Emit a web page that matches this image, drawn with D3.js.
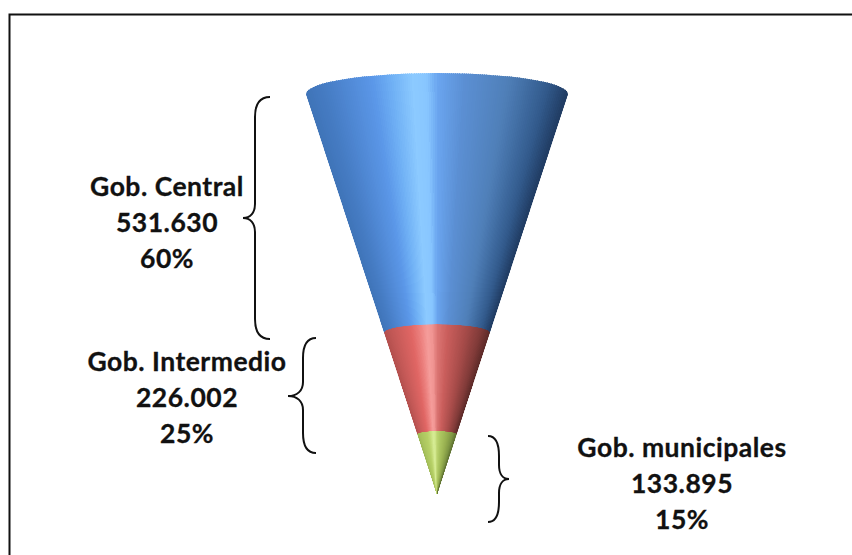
<!DOCTYPE html>
<html>
<head>
<meta charset="utf-8">
<script src="https://cdn.jsdelivr.net/npm/d3@7"></script>
<style>
  html, body { margin: 0; padding: 0; background: #fff; }
  svg { display: block; }
  text { font-family: Lato, "Open Sans", sans-serif; font-weight: 700; fill: #111; stroke: #111; stroke-width: 0.3px; letter-spacing: 0.5px; }
</style>
</head>
<body>
<script>
// data
const names = ['Gob. municipales', 'Gob. Intermedio', 'Gob. Central']
const values = [133895, 226002, 531630]
const valueLabels = ['133.895', '226.002', '531.630']
const shares = ['15%', '25%', '60%']

// shading stops across each cone, left to right
const shadeStops = [0, 0.08, 0.26, 0.33, 0.41, 0.46, 0.5, 0.6, 0.76, 0.91, 1]
const shades = [
  ['#9ab552', '#a8c25c', '#b6d066', '#c2da76', '#d6ec94', '#d2e88e', '#bed672', '#acc660', '#98b050', '#7c9442', '#607232'],
  ['#b24e4c', '#c25856', '#e06664', '#ea7c7a', '#f59c9a', '#f09492', '#dc7674', '#ca5e5c', '#a84c4a', '#803a38', '#5c2a28'],
  ['#3f74b8', '#467cc4', '#5b97e8', '#6fb0f5', '#8ccaff', '#88c6ff', '#6aa5ef', '#5b8fd3', '#4f7fb8', '#325a8c', '#1f3a60']
]

const width = 852
const height = 555

// cone geometry
const apexX = 437
const apexY = 494
const rimY = 94
const rimRx = 131
const squash = 0.16

const svg = d3.select('body')
  .append('svg')
  .attr('width', width)
  .attr('height', height)

svg.append('rect')
  .attr('width', width)
  .attr('height', height)
  .attr('fill', '#fff')

// frame: only the top and left edges fall inside the picture
svg.append('path')
  .attr('d', `M9.5,${height} L9.5,14.5 L${width},14.5`)
  .attr('fill', 'none')
  .attr('stroke', '#111')
  .attr('stroke-width', 2)

// scales
const total = d3.sum(values)
const yScale = d3.scaleLinear()
  .domain([0, total])
  .range([apexY, rimY])
const halfWidth = d3.scaleLinear()
  .domain([apexY, rimY])
  .range([0, rimRx])

const cumulative = d3.cumsum(values)
const bandTop = i => yScale(cumulative[i])
const bandBottom = i => yScale(i === 0 ? 0 : cumulative[i - 1])

// curved edge of the cone at height y, drawn left to right or back
const bandPath = i => {
  const y0 = bandTop(i)
  const y1 = bandBottom(i)
  const r0 = halfWidth(y0)
  const r1 = halfWidth(y1)
  let p = `M${apexX - r0},${y0} A${r0},${r0 * squash} 0 0 1 ${apexX + r0},${y0} `
  if (r1 === 0) return p + `L${apexX},${y1} Z`
  p += `L${apexX + r1},${y1} A${r1},${r1 * squash} 0 0 0 ${apexX - r1},${y1} Z`
  return p
}

const defs = svg.append('defs')
const cone = svg.append('g').attr('class', 'cone')
const sliceCount = 132
const slices = d3.range(0, 1, 1 / sliceCount)

values.forEach((v, i) => {
  defs.append('clipPath')
    .attr('id', `band-${i}`)
    .append('path')
    .attr('d', bandPath(i))

  const color = d3.scaleLinear()
    .domain(shadeStops)
    .range(shades[i])

  // thin wedges running to the tip, so the highlight narrows with the cone
  const rimTop = rimY - rimRx * squash - 2
  const overTop = (apexY - rimTop) / (apexY - rimY)
  cone.append('g')
    .attr('clip-path', `url(#band-${i})`)
    .selectAll('path')
    .data(slices)
    .enter()
    .append('path')
    .attr('d', t => {
      const a = apexX + (t * 2 - 1) * rimRx * overTop
      const b = apexX + ((t + 1 / sliceCount) * 2 - 1) * rimRx * overTop
      return `M${apexX},${apexY} L${a},${rimTop} L${b},${rimTop} Z`
    })
    .attr('fill', t => color(t))
    .attr('stroke', t => color(t))
    .attr('stroke-width', 1)
    .attr('shape-rendering', 'crispEdges')
})

// curly braces: sharp point on the side of the label
const brace = (x0, x1, xTip, y0, y1, yTip) => {
  const d = x1 < x0 ? -1 : 1
  const k = Math.abs(x1 - x0)
  return `M${x0},${y0} C${x0 + d * k * 0.6},${y0} ${x1},${y0 + 6} ${x1},${y0 + 20} `
    + `L${x1},${yTip - 14} C${x1},${yTip - 5} ${x1 + (xTip - x1) * 0.4},${yTip} ${xTip},${yTip} `
    + `C${x1 + (xTip - x1) * 0.4},${yTip} ${x1},${yTip + 5} ${x1},${yTip + 14} `
    + `L${x1},${y1 - 20} C${x1},${y1 - 6} ${x0 + d * k * 0.6},${y1} ${x0},${y1}`
}

const braces = [
  brace(488, 499, 509, 436, 522, 479),
  brace(316, 303, 288, 338, 453, 396),
  brace(270, 255, 243, 97, 339, 218)
]

svg.append('g')
  .selectAll('path')
  .data(braces)
  .enter()
  .append('path')
  .attr('d', d => d)
  .attr('fill', 'none')
  .attr('stroke', '#111')
  .attr('stroke-width', 2)

// labels
const labelX = [682, 187, 167]
const labelY = [457, 371, 196]
const lineStep = 36

names.forEach((name, i) => {
  const g = svg.append('g')
    .attr('text-anchor', 'middle')
    .attr('font-size', 26.5)
  ;[name, valueLabels[i], shares[i]].forEach((line, j) => {
    g.append('text')
      .attr('x', labelX[i])
      .attr('y', labelY[i] + j * lineStep)
      .text(line)
  })
})
</script>
</body>
</html>
